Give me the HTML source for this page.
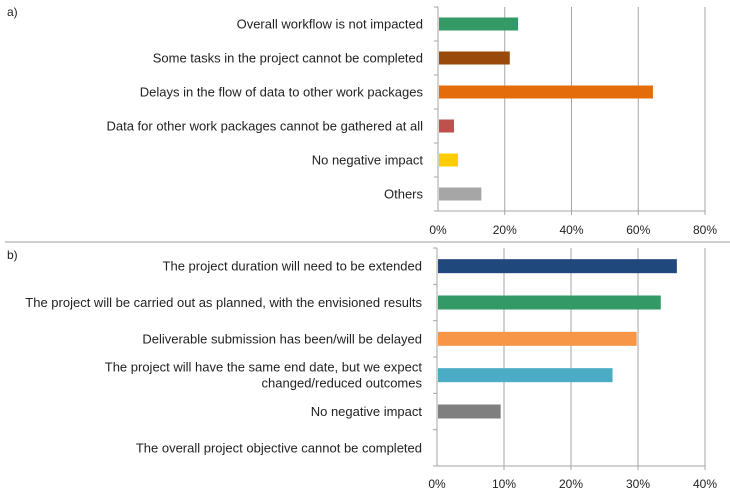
<!DOCTYPE html>
<html><head><meta charset="utf-8"><style>
body{margin:0;background:#fff}
svg{display:block;font-family:"Liberation Sans",sans-serif}
</style></head><body>
<svg id="c" width="730" height="494">
<line x1="5" y1="242" x2="730" y2="242" stroke="#bfbfbf" stroke-width="1.5"/>
<text x="7" y="16" font-size="12" fill="#222">a)</text>
<text x="7" y="259" font-size="12" fill="#222">b)</text>
</svg>
<script>
const catsA=["Overall workflow is not impacted","Some tasks in the project cannot be completed","Delays in the flow of data to other work packages","Data for other work packages cannot be gathered at all","No negative impact","Others"];
const valsA=[24,21.5,64.4,4.8,6,13];
const colorsA=["#339966","#994a0a","#e46c0a","#c0504d","#ffcc00","#a6a6a6"];
const ticksA=[0,20,40,60,80];
const catsB=["The project duration will need to be extended","The project will be carried out as planned, with the envisioned results","Deliverable submission has been/will be delayed","The project will have the same end date, but we expect|changed/reduced outcomes","No negative impact","The overall project objective cannot be completed"];
const valsB=[35.8,33.4,29.8,26.2,9.5,0];
const colorsB=["#1f497d","#339966","#f79646","#4bacc6","#7f7f7f","#999"];
const ticksB=[0,10,20,30,40];
const svg=document.getElementById('c');
const NS="http://www.w3.org/2000/svg";
function mk(t,a){const e=document.createElementNS(NS,t);for(const k in a)e.setAttribute(k,a[k]);svg.appendChild(e);return e;}
function panel(p,cats,vals,colors,ticks,x0,x1,yTop,yBot,barH,tickY){
  const max=ticks[ticks.length-1];
  const xs=v=>x0+(x1-x0)*v/max;
  const step=(yBot-yTop)/cats.length;
  ticks.forEach((t,i)=>{
    if(i>0){const g=mk('line',{x1:xs(t),x2:xs(t),y1:yTop,y2:yBot+4,stroke:'#a6a6a6','stroke-width':1});
    
    }
    const tx=mk('text',{x:xs(t),y:tickY,'font-size':12,'text-anchor':'middle',fill:'#222'});
    tx.textContent=t+'%';
    
    
  });
  const ax=mk('line',{x1:x0,x2:x0,y1:yTop,y2:yBot,stroke:'#a6a6a6','stroke-width':1});
  
  
  const bx=mk('line',{x1:x0-4,x2:x1,y1:yBot,y2:yBot,stroke:'#a6a6a6','stroke-width':1});
  
  
  for(let i=0;i<=cats.length;i++){
    const tk=mk('line',{x1:x0-4,x2:x0,y1:yTop+i*step,y2:yTop+i*step,stroke:'#a6a6a6'});
    
    
  }
  cats.forEach((c,i)=>{
    const cy=yTop+step*(i+0.5);
    if(vals[i]>0){
      const r=mk('rect',{x:x0+1,y:cy-barH/2,width:xs(vals[i])-x0-1,height:barH,fill:colors[i]});
      
      
    }
    const lines=c.split('|');
    lines.forEach((l,j)=>{
      const t=mk('text',{x:x0-15,y:cy+4.5+(j-(lines.length-1)/2)*16,'font-size':13,'text-anchor':'end',fill:'#222'});
      t.textContent=l;
      
      
    });
  });
}
panel('chart-a',catsA,valsA,colorsA,ticksA,438,705,7,211,13,234);
panel('chart-b',catsB,valsB,colorsB,ticksB,437,705,248,466,14,488);
</script>
</body></html>
